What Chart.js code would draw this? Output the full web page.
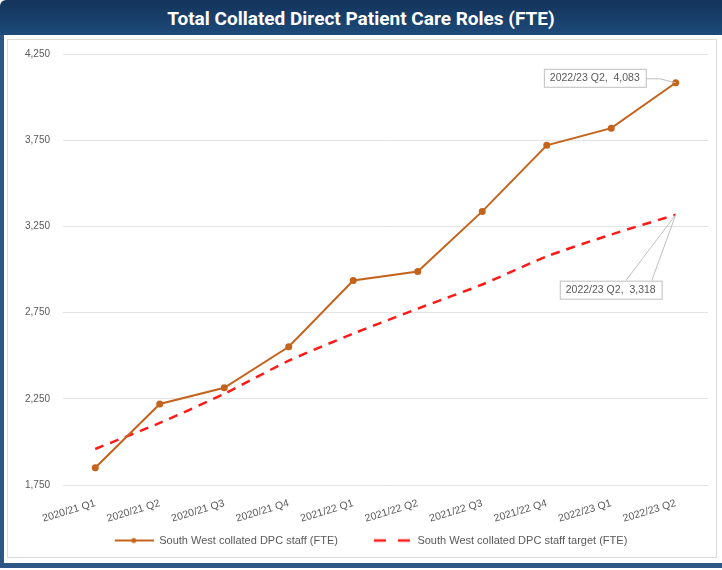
<!DOCTYPE html>
<html>
<head>
<meta charset="utf-8">
<script src="https://cdn.jsdelivr.net/npm/chart.js@4.4.1/dist/chart.umd.min.js"></script>
<style>
  body { margin: 0; background: #fff; }
  #frame {
    position: absolute; left: 0; top: 2px; width: 722px; height: 566px;
    background: #fff; border-left: 4px solid #2c5784; border-bottom: 5px solid #2c5784;
    box-sizing: border-box; border-top-left-radius: 6px;
  }
  #titlebar {
    position: absolute; left: 0; top: 0; width: 722px; height: 35px;
    background: linear-gradient(#13335a, #1d4b7a);
    border-top-left-radius: 6px;
    color: #fff; font-family: "Liberation Sans Narrow", "Roboto", sans-serif;
    font-weight: bold; font-size: 19px; text-align: center; line-height: 38px;
  }
  #inner {
    position: absolute; left: 7px; top: 39px; width: 710px; height: 519px;
    border: 1px solid #dcdcdc; box-sizing: border-box;
  }
  #wrap { position: absolute; left: 0; top: 0; width: 722px; height: 570px; }
</style>
</head>
<body>
<div id="frame"></div>
<div id="inner"></div>
<div id="titlebar">Total Collated Direct Patient Care Roles (FTE)</div>
<div id="wrap"><canvas id="myChart"></canvas></div>
<script>
const quarters = ['2020/21 Q1', '2020/21 Q2', '2020/21 Q3', '2020/21 Q4', '2021/22 Q1',
    '2021/22 Q2', '2021/22 Q3', '2021/22 Q4', '2022/23 Q1', '2022/23 Q2'];
const staff = [1850, 2220, 2314, 2552, 2936, 2988, 3337, 3720, 3820, 4083];
const target = [1959, 2110, 2279, 2471, 2628, 2773, 2913, 3076, 3203, 3318];
const yTicks = [1750, 2250, 2750, 3250, 3750, 4250];

const orange = '#c5631c';
const red = '#ff1a1a';

// legend sample images (left part left blank to space the two items)
function sample(dashed) {
    const c = document.createElement('canvas');
    c.width = 64; c.height = 10;
    const g = c.getContext('2d');
    g.lineWidth = dashed ? 2.5 : 2;
    g.strokeStyle = dashed ? red : orange;
    g.beginPath();
    if (dashed) {
        g.moveTo(26, 5); g.lineTo(38, 5);
        g.moveTo(50, 5); g.lineTo(62, 5);
    } else {
        g.moveTo(25, 5); g.lineTo(64, 5);
    }
    g.stroke();
    if (!dashed) {
        g.fillStyle = orange;
        g.beginPath(); g.arc(44, 5, 2.5, 0, Math.PI * 2); g.fill();
    }
    return c;
}
const samples = [sample(false), sample(true)];

// callout labels for the last points
const callouts = {
    id: 'callouts',
    afterDatasetsDraw(chart) {
        const ctx = chart.ctx;
        const p1 = chart.getDatasetMeta(0).data[9];
        const p2 = chart.getDatasetMeta(1).data[9];
        ctx.save();
        ctx.font = '10.5px "Liberation Sans", sans-serif';
        ctx.textBaseline = 'middle';
        ctx.strokeStyle = '#bfbfbf';
        ctx.lineWidth = 1;
        // staff label
        let t = quarters[9] + ',  ' + staff[9].toLocaleString('en-GB');
        let w = ctx.measureText(t).width + 12;
        let bx = p1.x - 30 - w, by = p1.y - 14;
        ctx.fillStyle = '#fff';
        ctx.fillRect(bx, by, w, 18);
        ctx.strokeRect(bx + 0.5, by + 0.5, w, 18);
        ctx.beginPath();
        ctx.moveTo(bx + w, by + 10);
        ctx.lineTo(bx + w + 14, by + 10);
        ctx.lineTo(p1.x, p1.y);
        ctx.stroke();
        ctx.fillStyle = '#595959';
        ctx.fillText(t, bx + 6, by + 9.5);
        // target label
        t = quarters[9] + ',  ' + target[9].toLocaleString('en-GB');
        w = ctx.measureText(t).width + 12;
        bx = p2.x - 116; by = p2.y + 66;
        ctx.beginPath();
        ctx.moveTo(bx + 66, by); ctx.lineTo(p2.x, p2.y);
        ctx.moveTo(bx + 92, by); ctx.lineTo(p2.x, p2.y);
        ctx.stroke();
        ctx.fillStyle = '#fff';
        ctx.fillRect(bx, by, w, 18);
        ctx.strokeRect(bx + 0.5, by + 0.5, w, 18);
        ctx.fillStyle = '#595959';
        ctx.fillText(t, bx + 6, by + 9.5);
        ctx.restore();
    }
};

const ctx = document.getElementById('myChart').getContext('2d');
const myChart = new Chart(ctx, {
    type: 'line',
    data: {
        labels: quarters,
        datasets: [{
            label: 'South West collated DPC staff (FTE)',
            data: staff,
            borderColor: orange,
            backgroundColor: orange,
            borderWidth: 2,
            pointRadius: 2.5,
            pointHoverRadius: 3,
            tension: 0
        }, {
            label: 'South West collated DPC staff target (FTE)',
            data: target,
            borderColor: red,
            backgroundColor: red,
            borderWidth: 2.5,
            borderDash: [9, 7],
            pointRadius: 0,
            tension: 0.2
        }]
    },
    options: {
        responsive: true,
        maintainAspectRatio: false,
        animation: false,
        layout: {
            padding: { top: 54, left: 9, right: 14, bottom: 14 }
        },
        scales: {
            y: {
                min: 1750,
                max: 4250,
                afterFit: function(scale) { scale.width = 54; },
                afterBuildTicks: function(scale) {
                    scale.ticks = yTicks.map(v => ({ value: v }));
                },
                border: { display: false },
                grid: { color: '#e3e3e3', drawTicks: false },
                ticks: {
                    padding: 13,
                    color: '#595959',
                    font: { family: '"Liberation Sans", sans-serif', size: 10 },
                    callback: function(value) {
                        return value.toLocaleString('en-GB');
                    }
                }
            },
            x: {
                offset: true,
                afterFit: function(scale) { scale.height = 40; },
                border: { display: false },
                grid: { display: false },
                ticks: {
                    minRotation: 17,
                    maxRotation: 17,
                    autoSkip: false,
                    padding: 4,
                    color: '#595959',
                    font: { family: '"Liberation Sans", sans-serif', size: 10.5 }
                }
            }
        },
        plugins: {
            legend: {
                position: 'bottom',
                labels: {
                    usePointStyle: true,
                    pointStyleWidth: 64,
                    boxWidth: 64,
                    boxHeight: 10,
                    padding: 10,
                    color: '#595959',
                    font: { family: '"Liberation Sans", sans-serif', size: 11 },
                    generateLabels: function(chart) {
                        const items = Chart.defaults.plugins.legend.labels.generateLabels(chart);
                        items.forEach((it, i) => { it.pointStyle = samples[i]; });
                        return items;
                    }
                }
            },
            tooltip: { enabled: false }
        }
    },
    plugins: [callouts]
});
</script>
</body>
</html>
